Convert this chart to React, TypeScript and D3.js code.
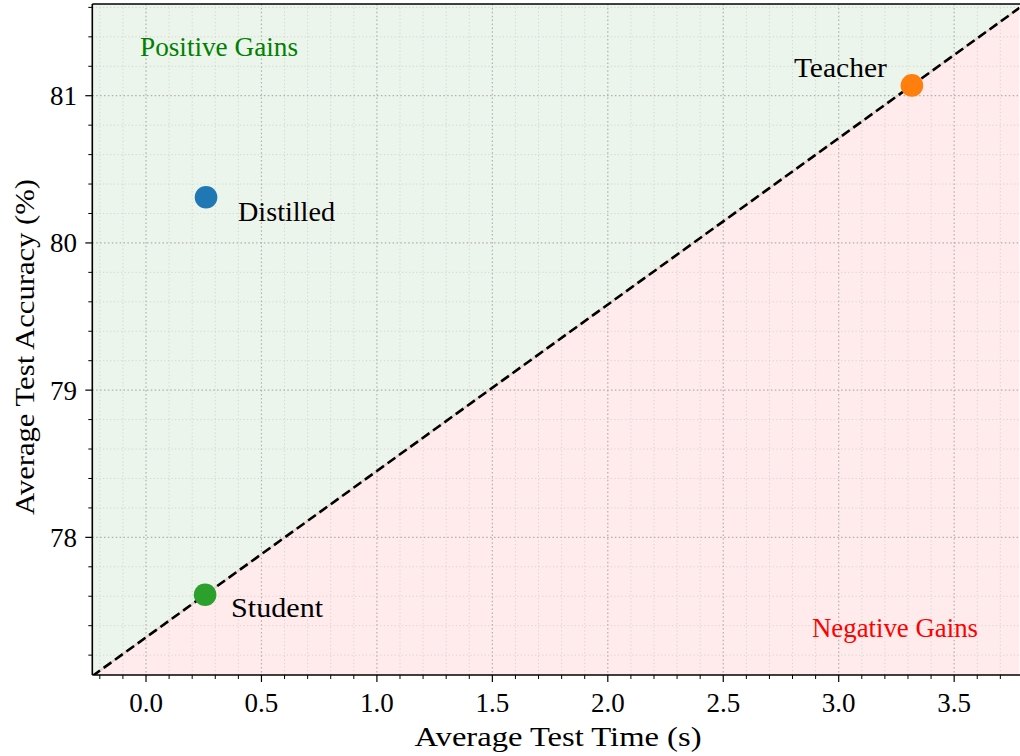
import React from "react";
import * as d3 from "d3";

// Model results: average inference time (s) vs. average test accuracy (%)
const models = ["Distilled", "Teacher", "Student"];
const testTime = [0.26, 3.317, 0.256];
const testAccuracy = [80.31, 81.07, 77.61];
const modelColors = ["#1f77b4", "#ff7f0e", "#2ca02c"];

const xTicks = [0, 0.5, 1.0, 1.5, 2.0, 2.5, 3.0, 3.5];
const yTicks = [78, 79, 80, 81];
const xDomain = [-0.2326, 3.783];
const yDomain = [77.065, 81.623];

const W = 1020;
const H = 756;
const left = 92.3;
const right = 1019.5;
const top = 4;
const bottom = 675;

const FONT = "'Liberation Serif', 'Times New Roman', serif";

export default function App() {
  const x = d3.scaleLinear().domain(xDomain).range([left, right]);
  const y = d3.scaleLinear().domain(yDomain).range([bottom, top]);

  // break-even line through student and teacher
  const si = models.indexOf("Student");
  const ti = models.indexOf("Teacher");
  const slope = (testAccuracy[ti] - testAccuracy[si]) / (testTime[ti] - testTime[si]);
  const lineAt = (t: number) => testAccuracy[si] + slope * (t - testTime[si]);
  const x0 = xDomain[0];
  const x1 = xDomain[1];
  const lineGen = d3
    .line<[number, number]>()
    .x((d) => x(d[0]))
    .y((d) => y(d[1]));
  const breakEven: [number, number][] = [
    [x0, lineAt(x0)],
    [x1, lineAt(x1)],
  ];
  const above: [number, number][] = [
    [x0, lineAt(x0)],
    [x1, lineAt(x1)],
    [x1, yDomain[1]],
    [x0, yDomain[1]],
  ];
  const below: [number, number][] = [
    [x0, lineAt(x0)],
    [x1, lineAt(x1)],
    [x1, yDomain[0]],
    [x0, yDomain[0]],
  ];
  const area = (pts: [number, number][]) => lineGen(pts) + "Z";

  const xMinor = d3.range(-0.2, 3.8 + 1e-9, 0.1).map((v) => +v.toFixed(2)).filter(
    (v) => v >= xDomain[0] && v <= xDomain[1] && Math.abs(v * 2 - Math.round(v * 2)) > 1e-6
  );
  const yMinor = d3.range(77.2, 81.61, 0.2).map((v) => +v.toFixed(2)).filter(
    (v) => v >= yDomain[0] && v <= yDomain[1] && Math.abs(v - Math.round(v)) > 1e-6
  );

  const labelOffsets: Record<string, { dx: number; dy: number; anchor: string; len: number }> = {
    Distilled: { dx: 32, dy: 24, anchor: "start", len: 97 },
    Teacher: { dx: -25, dy: -8, anchor: "end", len: 93 },
    Student: { dx: 26, dy: 22, anchor: "start", len: 92 },
  };

  return (
    <svg
      width={W}
      height={H}
      style={{ position: "absolute", left: 0, top: 0, background: "#fff" }}
      fontFamily={FONT}
    >
      <clipPath id="plot">
        <rect x={left} y={top} width={right - left} height={bottom - top} />
      </clipPath>
      <g clipPath="url(#plot)">
        <path d={area(above)} fill="#008000" fillOpacity={0.08} />
        <path d={area(below)} fill="#ff0000" fillOpacity={0.08} />
        {/* minor grid */}
        {xMinor.map((v) => (
          <line key={"xm" + v} x1={x(v)} x2={x(v)} y1={top} y2={bottom} stroke="#d4d4d4" strokeWidth={1} strokeDasharray="1.2,2.4" />
        ))}
        {yMinor.map((v) => (
          <line key={"ym" + v} y1={y(v)} y2={y(v)} x1={left} x2={right} stroke="#d4d4d4" strokeWidth={1} strokeDasharray="1.2,2.4" />
        ))}
        {/* major grid */}
        {xTicks.map((v) => (
          <line key={"xg" + v} x1={x(v)} x2={x(v)} y1={top} y2={bottom} stroke="#b0b0b0" strokeWidth={1.2} strokeDasharray="1.5,2.4" />
        ))}
        {yTicks.map((v) => (
          <line key={"yg" + v} y1={y(v)} y2={y(v)} x1={left} x2={right} stroke="#b0b0b0" strokeWidth={1.2} strokeDasharray="1.5,2.4" />
        ))}
        {/* break-even line */}
        <path d={lineGen(breakEven)!} stroke="#e3d2c6" strokeWidth={2} fill="none" />
        <path d={lineGen(breakEven)!} stroke="#000" strokeWidth={2.6} fill="none" strokeDasharray="9.5,4.5" />
      </g>

      {/* points */}
      {models.map((m, i) => (
        <circle key={m} cx={x(testTime[i])} cy={y(testAccuracy[i])} r={11.3} fill={modelColors[i]} />
      ))}
      {models.map((m, i) => {
        const o = labelOffsets[m];
        return (
          <text
            key={"l" + m}
            x={x(testTime[i]) + o.dx}
            y={y(testAccuracy[i]) + o.dy}
            textAnchor={o.anchor}
            fontSize={27}
            fill="#000"
            textLength={o.len}
            lengthAdjust="spacingAndGlyphs"
          >
            {m}
          </text>
        );
      })}

      <text x={140} y={56} fontSize={27} fill="#008000" textLength={158} lengthAdjust="spacingAndGlyphs">
        Positive Gains
      </text>
      <text x={812} y={637} fontSize={27} fill="#ff0000" textLength={166} lengthAdjust="spacingAndGlyphs">
        Negative Gains
      </text>

      {/* spines */}
      <line x1={left} x2={left} y1={top} y2={bottom} stroke="#000" strokeWidth={1.6} />
      <line x1={left} x2={W} y1={bottom} y2={bottom} stroke="#000" strokeWidth={1.6} />
      <line x1={left} x2={W} y1={top} y2={top} stroke="#000" strokeWidth={1.6} />

      {/* x axis ticks */}
      {xMinor.map((v) => (
        <line key={"xt" + v} x1={x(v)} x2={x(v)} y1={bottom} y2={bottom + 4} stroke="#000" strokeWidth={1} />
      ))}
      {xTicks.map((v) => (
        <g key={"xT" + v}>
          <line x1={x(v)} x2={x(v)} y1={bottom} y2={bottom + 7} stroke="#000" strokeWidth={1.2} />
          <text x={x(v)} y={711.5} fontSize={27} textAnchor="middle" fill="#000">
            {v.toFixed(1)}
          </text>
        </g>
      ))}
      {/* y axis ticks */}
      {yMinor.map((v) => (
        <line key={"yt" + v} x1={left - 4} x2={left} y1={y(v)} y2={y(v)} stroke="#000" strokeWidth={1} />
      ))}
      {yTicks.map((v) => (
        <g key={"yT" + v}>
          <line x1={left - 7} x2={left} y1={y(v)} y2={y(v)} stroke="#000" strokeWidth={1.2} />
          <text x={77} y={y(v) + 9.5} fontSize={27} textAnchor="end" fill="#000">
            {v}
          </text>
        </g>
      ))}

      <text x={558} y={746} fontSize={27} textAnchor="middle" fill="#000" textLength={287} lengthAdjust="spacingAndGlyphs">
        Average Test Time (s)
      </text>
      <text
        transform={`translate(33.5, 347) rotate(-90)`}
        fontSize={27}
        textAnchor="middle"
        fill="#000"
        textLength={336}
        lengthAdjust="spacingAndGlyphs"
      >
        Average Test Accuracy (%)
      </text>
    </svg>
  );
}
